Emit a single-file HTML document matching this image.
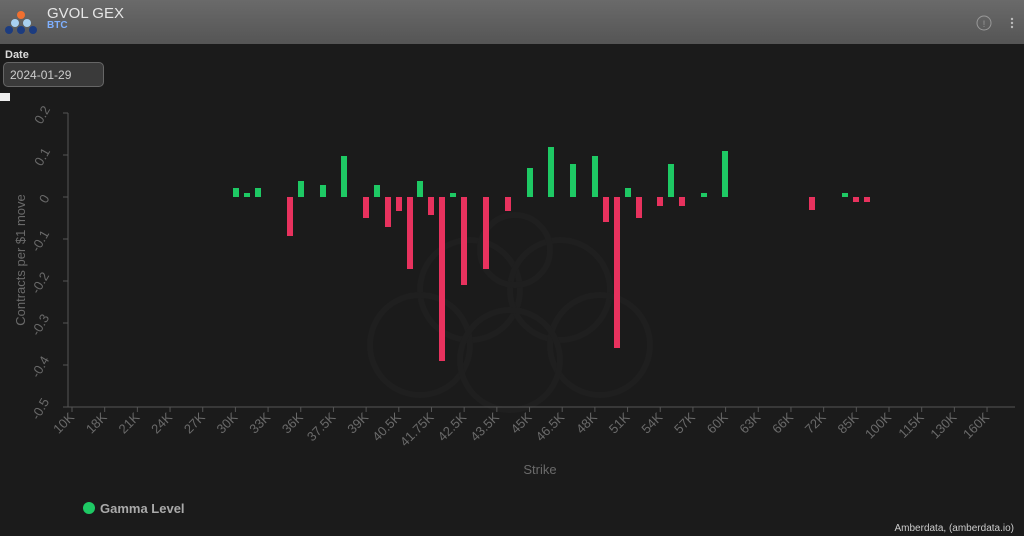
<!DOCTYPE html>
<html><head><meta charset="utf-8"><style>
body{margin:0;width:1024px;height:536px;background:#1b1b1b;overflow:hidden;font-family:"Liberation Sans",sans-serif;position:relative}
.hdr{position:absolute;left:0;top:0;width:1024px;height:44px;background:linear-gradient(#6a6a6a,#555)}
.t1{position:absolute;left:47px;top:5px;color:#e6e6e6;font-size:15px}
.t2{position:absolute;left:47px;top:20px;color:#7fb0ff;font-size:10px;font-weight:bold}
.lbl{position:absolute;left:5px;top:49px;color:#ddd;font-size:11px;font-weight:bold}
.inp{position:absolute;left:3px;top:62px;width:101px;height:25px;border:1px solid #666;border-radius:5px;background:#3a3a3a;color:#ccc;font-size:12px;line-height:24px;padding-left:6px;box-sizing:border-box}
.sm{position:absolute;left:0;top:93px;width:10px;height:8px;background:#eee}
.foot{position:absolute;right:10px;top:523px;color:#ccc;font-size:10px}
</style></head><body>
<div class="hdr"></div>
<svg style="position:absolute;left:0;top:0" width="44" height="44">
<circle cx="21" cy="15" r="4" fill="#f07030"/>
<circle cx="15" cy="23" r="4" fill="#a8d0f0"/><circle cx="27" cy="23" r="4" fill="#a8d0f0"/>
<circle cx="9" cy="30" r="4" fill="#1c3c80"/><circle cx="21" cy="30" r="4" fill="#1c3c80"/><circle cx="33" cy="30" r="4" fill="#1c3c80"/>
</svg>
<div class="t1">GVOL GEX</div><div class="t2">BTC</div>
<svg style="position:absolute;left:975px;top:14px" width="40" height="20"><circle cx="9" cy="9" r="7" fill="none" stroke="#999" stroke-width="1"/><text x="9" y="13" font-size="9" fill="#999" text-anchor="middle">!</text><circle cx="37" cy="5" r="1.2" fill="#bbb"/><circle cx="37" cy="9" r="1.2" fill="#bbb"/><circle cx="37" cy="13" r="1.2" fill="#bbb"/></svg>
<div class="lbl">Date</div><div class="inp">2024-01-29</div><div class="sm"></div>
<svg style="position:absolute;left:0;top:0" width="1024" height="536" font-family="Liberation Sans, sans-serif">
<g fill="none" stroke="#1f1f1f" stroke-width="6">
<circle cx="470" cy="290" r="50"/><circle cx="560" cy="290" r="50"/><circle cx="515" cy="250" r="35"/><circle cx="420" cy="345" r="50"/><circle cx="600" cy="345" r="50"/><circle cx="510" cy="360" r="50"/>
</g>
<g stroke="#555" stroke-width="1">
<line x1="68" y1="113" x2="68" y2="407"/><line x1="63" y1="407" x2="1015" y2="407"/>
<line x1="63" y1="113" x2="68" y2="113"/><line x1="63" y1="155" x2="68" y2="155"/><line x1="63" y1="197" x2="68" y2="197"/><line x1="63" y1="239" x2="68" y2="239"/><line x1="63" y1="281" x2="68" y2="281"/><line x1="63" y1="323" x2="68" y2="323"/><line x1="63" y1="365" x2="68" y2="365"/>
</g>
<g fill="#6a6a6a" font-size="13" text-anchor="middle">
<text transform="translate(46,117) rotate(-60)">0.2</text>
<text transform="translate(46,159) rotate(-60)">0.1</text>
<text transform="translate(48,201) rotate(-60)">0</text>
<text transform="translate(44,243) rotate(-60)">-0.1</text>
<text transform="translate(44,285) rotate(-60)">-0.2</text>
<text transform="translate(44,327) rotate(-60)">-0.3</text>
<text transform="translate(44,369) rotate(-60)">-0.4</text>
<text transform="translate(44,411) rotate(-60)">-0.5</text>
<text transform="translate(25,260) rotate(-90)" font-size="13">Contracts per $1 move</text>
<text x="540" y="474" font-size="13">Strike</text>
</g>
<g id="xt" fill="#6a6a6a" font-size="13" text-anchor="end"></g>
<g id="bars"></g>
<circle cx="89" cy="508" r="6" fill="#1ec964"/>
<text x="100" y="513" fill="#aaa" font-size="13" font-weight="bold">Gamma Level</text>
</svg>
<div class="foot">Amberdata, (amberdata.io)</div>
<script>
var L=["10K","18K","21K","24K","27K","30K","33K","36K","37.5K","39K","40.5K","41.75K","42.5K","43.5K","45K","46.5K","48K","51K","54K","57K","60K","63K","66K","72K","85K","100K","115K","130K","160K"];
var g=document.getElementById("xt"),s="";
L.forEach(function(l,i){var x=72+i*32.68;s+='<line x1="'+x+'" y1="407" x2="'+x+'" y2="412" stroke="#555"/><text transform="translate('+(x+3)+',418) rotate(-45)">'+l+'</text>';});
g.innerHTML=s;
var B=[[236,188],[247,193],[258,188],[290,236],[301,181],[323,185],[344,156],[366,218],[377,185],[388,227],[399,211],[410,269],[420,181],[431,215],[442,361],[453,193],[464,285],[486,269],[508,211],[530,168],[551,147],[573,164],[595,156],[606,222],[617,348],[628,188],[639,218],[660,206],[671,164],[682,206],[704,193],[725,151],[812,210],[845,193],[856,202],[867,202]];
var b="";B.forEach(function(p){var y=p[1],z=197;if(y<z)b+='<rect x="'+(p[0]-3)+'" y="'+y+'" width="6" height="'+(z-y)+'" fill="#1ec964"/>';else b+='<rect x="'+(p[0]-3)+'" y="'+z+'" width="6" height="'+(y-z)+'" fill="#e8325e"/>';});
document.getElementById("bars").innerHTML=b;
</script>
</body></html>
